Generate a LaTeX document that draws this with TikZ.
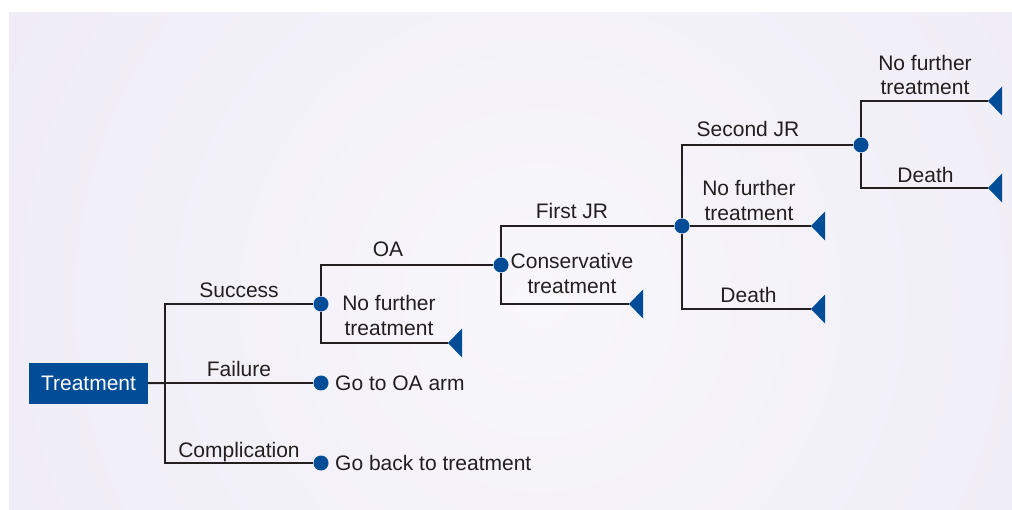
\documentclass[tikz,border=0pt]{standalone}
\usepackage{fontspec}
\setmainfont{Liberation Sans}
\usetikzlibrary{calc}
\definecolor{treeblue}{RGB}{0,76,151}
\definecolor{treeline}{RGB}{35,31,32}
\definecolor{bgedge}{RGB}{230,226,240}
\definecolor{bgmid}{RGB}{248,247,251}
\def\endtri(#1){\fill[treeblue] (#1) -- ++(14,14.5) -- ++(0,-29) -- cycle;}
\tikzset{
  chance/.style={circle, fill=treeblue, inner sep=0pt, minimum size=15pt},
  branch/.style={line width=2pt, color=treeline},
  lbl/.style={text=treeline, inner sep=0pt, anchor=base},
  lbltwo/.style={text=treeline, inner sep=0pt, align=center},
  startbox/.style={fill=treeblue, text=white, inner sep=0pt, minimum width=119pt, minimum height=41pt}
}

\begin{document}
\begin{tikzpicture}[x=1pt, y=-1pt, font=\fontsize{21}{24.5}\selectfont]
			%%%%% START %%%%%
			\useasboundingbox (0, 0) rectangle (1012, 510);
			\begin{scope}
			\clip (9, 13) rectangle (1012, 510);
			\shade[inner color=bgmid, outer color=bgedge] (540, 300) circle (1150);
			\end{scope}
			
			\node[startbox] (treat) at (88.5, 383.5) {Treatment};
			\coordinate (fork) at (165, 383);
			
			\node[chance] (succ) at (321, 304) {};
			\node[chance] (fail) at (321, 383) {};
			\node[chance] (comp) at (321, 463) {};
			\node[chance] (oa) at (501, 265) {};
			\node[chance] (firstjr) at (682, 226) {};
			\node[chance] (secondjr) at (861, 145) {};
			
			\coordinate (endnf) at (448, 343);
			\coordinate (endcons) at (629, 304);
			\coordinate (endnfb) at (811, 226);
			\coordinate (enddeath) at (811, 309);
			\coordinate (endnfc) at (988, 101);
			\coordinate (enddeathb) at (988, 188);
			
			% first split
			\draw[branch] (treat) -- (fork);
			\draw[branch] (fork) |- (succ);
			\draw[branch] (fork) -- (fail);
			\draw[branch] (fork) |- (comp);
			
			% success
			\draw[branch] (succ) |- (oa);
			\draw[branch] (succ) |- (endnf);
			
			% OA
			\draw[branch] (oa) |- (firstjr);
			\draw[branch] (oa) |- (endcons);
			
			% first JR
			\draw[branch] (firstjr) |- (secondjr);
			\draw[branch] (firstjr) -- (endnfb);
			\draw[branch] (firstjr) |- (enddeath);
			
			% second JR
			\draw[branch] (secondjr) |- (endnfc);
			\draw[branch] (secondjr) |- (enddeathb);
			
			\endtri(endnf)
			\endtri(endcons)
			\endtri(endnfb)
			\endtri(enddeath)
			\endtri(endnfc)
			\endtri(enddeathb)
			
			\node[lbl] (lsucc) at (239, 298) {Success};
			\node[lbl] (lfail) at (239, 377) {Failure};
			\node[lbl] (lcomp) at (239, 457) {Complication};
			\node[lbl, anchor=base west] (lgooa) at (335, 390.5) {Go to OA arm};
			\node[lbl, anchor=base west] (lgoback) at (335, 470.5) {Go back to treatment};
			
			\node[lbl] (loa) at (388, 257) {OA};
			\node[lbltwo] (lnf) at (389, 315.5) {No further\\treatment};
			
			\node[lbl] (lfirst) at (572, 218.5) {First JR};
			\node[lbltwo] (lcons) at (572, 273.5) {Conservative\\treatment};
			
			\node[lbl] (lsecond) at (748, 137) {Second JR};
			\node[lbltwo] (lnfb) at (749, 200.5) {No further\\treatment};
			\node[lbl] (ldeath) at (748.5, 303) {Death};
			
			\node[lbltwo] (lnfc) at (925, 75) {No further\\treatment};
			\node[lbl] (ldeathb) at (925.5, 182.5) {Death};
			%%%%% END %%%%%
\end{tikzpicture}
\end{document}
